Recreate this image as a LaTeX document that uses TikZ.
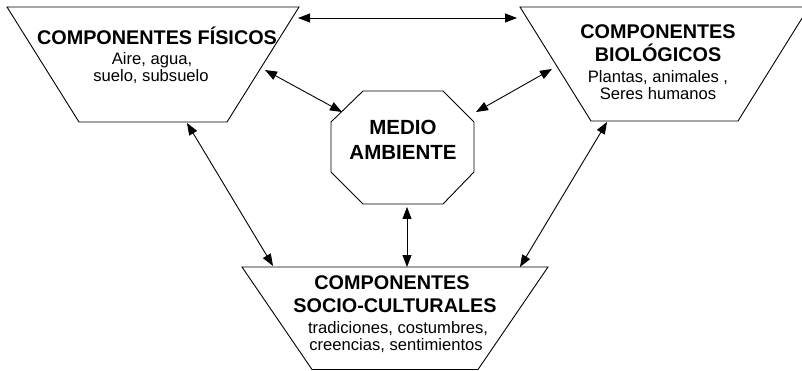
\documentclass[tikz,border=0pt]{standalone}
\usepackage{fontspec}
\setmainfont{Liberation Sans}
\usetikzlibrary{arrows.meta}
\tikzset{
  shapeline/.style={draw=black, line width=0.9pt, line join=miter},
  link/.style={draw=black, line width=0.9pt, {Triangle[length=12pt,width=9pt]}-{Triangle[length=12pt,width=9pt]}},
  head/.style={font=\fontsize{19.8}{23}\selectfont\bfseries, anchor=base, inner sep=0pt},
  bighead/.style={font=\fontsize{20.5}{24}\selectfont\bfseries, anchor=base, inner sep=0pt},
  body/.style={font=\fontsize{16.6}{19}\selectfont, anchor=base, inner sep=0pt}
}
\begin{document}
\begin{tikzpicture}[x=1pt,y=-1pt]
\useasboundingbox (0,0) rectangle (802,371);
\clip (0,0) rectangle (802,371);
\fill[white] (0,0) rectangle (802,371);
% shapes
\draw[shapeline] (7,7) -- (299,7) -- (227,122) -- (79,122) -- cycle;
\draw[shapeline] (520,7) -- (809,7) -- (738,121) -- (591,121) -- cycle;
\draw[shapeline] (242,267) -- (548,267) -- (478,369.5) -- (312,369.5) -- cycle;
\draw[shapeline] (363,91) -- (443,91) -- (474,122) -- (474,172) -- (443,204) -- (363,204) -- (331,172) -- (331,122) -- cycle;
% texts
\node[head] (fis1) at (157,45) {COMPONENTES FÍSICOS};
\node[body] (fis2) at (152,65) {Aire, agua,};
\node[body] (fis3) at (151,82) {suelo, subsuelo};
\node[head] (bio1) at (658,39) {COMPONENTES};
\node[head] (bio2) at (658,62) {BIOLÓGICOS};
\node[body] (bio3) at (658,83) {Plantas, animales ,};
\node[body] (bio4) at (658,100) {Seres humanos};
\node[bighead] (med1) at (403,135) {MEDIO};
\node[bighead] (med2) at (403,160) {AMBIENTE};
\node[head] (soc1) at (392,289) {COMPONENTES};
\node[head] (soc2) at (395,312) {SOCIO-CULTURALES};
\node[body] (soc3) at (398,333) {tradiciones, costumbres,};
\node[body] (soc4) at (396,350) {creencias, sentimientos};
% connector ends
\coordinate (fisTop) at (298,18);
\coordinate (bioTop) at (517,18);
\coordinate (fisMed) at (265,70);
\coordinate (medFis) at (342,112);
\coordinate (bioMed) at (552,69);
\coordinate (medBio) at (476,112);
\coordinate (medSoc) at (407,207);
\coordinate (socMed) at (407,267);
\coordinate (fisSoc) at (187,123);
\coordinate (socFis) at (273,266);
\coordinate (bioSoc) at (607,122);
\coordinate (socBio) at (520,267);
% connectors
\draw[link] (fisTop) -- (bioTop);
\draw[link] (fisMed) -- (medFis);
\draw[link] (bioMed) -- (medBio);
\draw[link] (medSoc) -- (socMed);
\draw[link] (fisSoc) -- (socFis);
\draw[link] (bioSoc) -- (socBio);
\end{tikzpicture}
\end{document}
